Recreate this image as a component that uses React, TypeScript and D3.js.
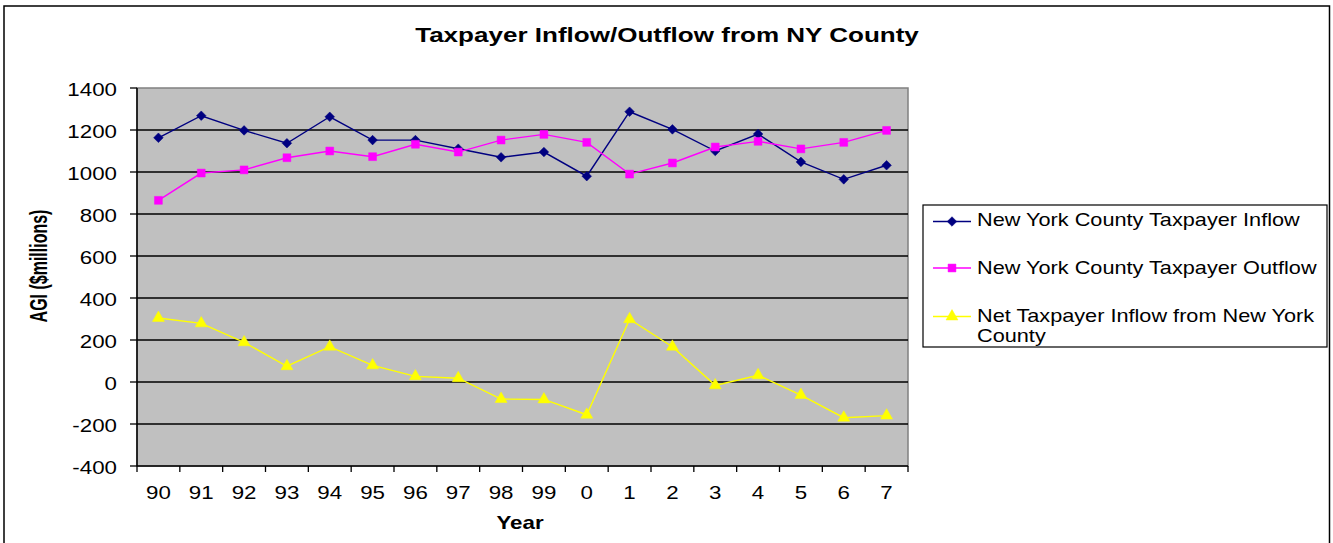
import * as d3 from "d3";

const years = ["90", "91", "92", "93", "94", "95", "96", "97", "98", "99", "0", "1", "2", "3", "4", "5", "6", "7"];
const inflow = [1163, 1268, 1198, 1137, 1263, 1152, 1152, 1111, 1070, 1095, 980, 1287, 1203, 1100, 1181, 1048, 965, 1032];
const outflow = [865, 995, 1010, 1068, 1100, 1073, 1132, 1095, 1152, 1179, 1141, 990, 1043, 1119, 1146, 1110, 1141, 1198];
const net = [305, 279, 189, 75, 168, 79, 27, 18, -81, -83, -156, 299, 168, -16, 32, -62, -170, -160];
const yTicks = [-400, -200, 0, 200, 400, 600, 800, 1000, 1200, 1400];

const series = [
  { name: "New York County Taxpayer Inflow", values: inflow, color: "#000080", shape: "diamond" },
  { name: "New York County Taxpayer Outflow", values: outflow, color: "#FF00FF", shape: "square" },
  { name: "Net Taxpayer Inflow from New York County", values: net, color: "#FFFF00", shape: "triangle" },
];

const W = 1333;
const H = 543;
const plot = { left: 137, right: 908, top: 88, bottom: 466 };
const FONT = "'Liberation Sans', Arial, sans-serif";
const SX = 1.24; // the source image is stretched horizontally

const x = d3.scaleBand().domain(years).range([plot.left, plot.right]).padding(0);
const y = d3.scaleLinear().domain([-400, 1400]).range([plot.bottom, plot.top]);
const cx = (d: string) => x(d)! + x.bandwidth() / 2;

function markerPath(shape: string) {
  if (shape === "triangle") return d3.symbol(d3.symbolTriangle, 62)()!;
  if (shape === "square") return d3.symbol(d3.symbolSquare, 62)()!;
  return d3.symbol(d3.symbolSquare, 46)()!;
}

function Marker({ shape, color, px, py }: { shape: string; color: string; px: number; py: number }) {
  const rot = shape === "diamond" ? " rotate(45)" : "";
  return <path d={markerPath(shape)} transform={`translate(${px},${py})${rot}`} fill={color} stroke={color} strokeWidth={0.5} />;
}

function Txt(props: { x: number; y: number; size: number; bold?: boolean; anchor?: string; rotate?: number; sx?: number; children: any }) {
  const r = props.rotate ? ` rotate(${props.rotate})` : "";
  return (
    <text
      transform={`translate(${props.x},${props.y}) scale(${props.sx ?? SX},1)${r}`}
      fontFamily={FONT}
      fontSize={props.size}
      fontWeight={props.bold ? "bold" : "normal"}
      textAnchor={props.anchor ?? "start"}
      fill="#000"
    >
      {props.children}
    </text>
  );
}

export default function App() {
  const line = d3
    .line<number>()
    .x((_, i) => cx(years[i]))
    .y((v) => y(v));

  const legendRows = [221.5, 268, 316.5];

  return (
    <svg width={W} height={H} style={{ position: "fixed", left: 0, top: 0, background: "#fff" }}>
      <rect x={4} y={6} width={1325.5} height={H + 10} fill="#fff" stroke="#000" strokeWidth={1.5} />

      <Txt x={667} y={42} size={21} bold anchor="middle">
        Taxpayer Inflow/Outflow from NY County
      </Txt>

      {/* plot area */}
      <rect x={plot.left} y={plot.top} width={plot.right - plot.left} height={plot.bottom - plot.top} fill="#C0C0C0" stroke="#808080" strokeWidth={1.5} />
      {yTicks.map((t) => (
        <g key={t}>
          {t > -400 && t < 1400 && <line x1={plot.left} x2={plot.right} y1={y(t)} y2={y(t)} stroke="#000" strokeWidth={1.3} />}
          <line x1={plot.left - 7} x2={plot.left} y1={y(t)} y2={y(t)} stroke="#000" strokeWidth={1.3} />
          <Txt x={117} y={y(t) + 8} size={18} anchor="end">
            {t}
          </Txt>
        </g>
      ))}
      <line x1={plot.left} x2={plot.left} y1={plot.top} y2={plot.bottom} stroke="#000" strokeWidth={1.5} />
      <line x1={plot.left} x2={plot.right} y1={plot.bottom} y2={plot.bottom} stroke="#000" strokeWidth={1.5} />
      {years.map((d) => (
        <g key={d}>
          <line x1={x(d)!} x2={x(d)!} y1={plot.bottom} y2={plot.bottom + 6} stroke="#000" strokeWidth={1.3} />
          <Txt x={cx(d)} y={498.5} size={18} anchor="middle">
            {d}
          </Txt>
        </g>
      ))}
      <line x1={plot.right} x2={plot.right} y1={plot.bottom} y2={plot.bottom + 6} stroke="#000" strokeWidth={1.3} />

      <Txt x={520} y={528.5} size={18} bold anchor="middle">
        Year
      </Txt>
      <Txt x={47} y={266} size={16} bold anchor="middle" rotate={-90} sx={1.45}>
        AGI ($millions)
      </Txt>

      {/* series */}
      {series.map((s) => (
        <g key={s.name}>
          <path d={line(s.values)!} fill="none" stroke={s.color} strokeWidth={1.4} />
          {s.values.map((v, i) => (
            <Marker key={i} shape={s.shape} color={s.color} px={cx(years[i])} py={y(v)} />
          ))}
        </g>
      ))}

      {/* legend */}
      <rect x={923} y={205} width={404} height={142} fill="#fff" stroke="#000" strokeWidth={1.2} />
      {series.map((s, i) => (
        <g key={s.name}>
          <line x1={933} x2={971} y1={legendRows[i]} y2={legendRows[i]} stroke={s.color} strokeWidth={1.4} />
          <Marker shape={s.shape} color={s.color} px={952} py={legendRows[i]} />
        </g>
      ))}
      <Txt x={977} y={226} size={17.5}>New York County Taxpayer Inflow</Txt>
      <Txt x={977} y={274} size={17.5}>New York County Taxpayer Outflow</Txt>
      <Txt x={977} y={322} size={17.5}>Net Taxpayer Inflow from New York</Txt>
      <Txt x={977} y={342} size={17.5}>County</Txt>
    </svg>
  );
}
